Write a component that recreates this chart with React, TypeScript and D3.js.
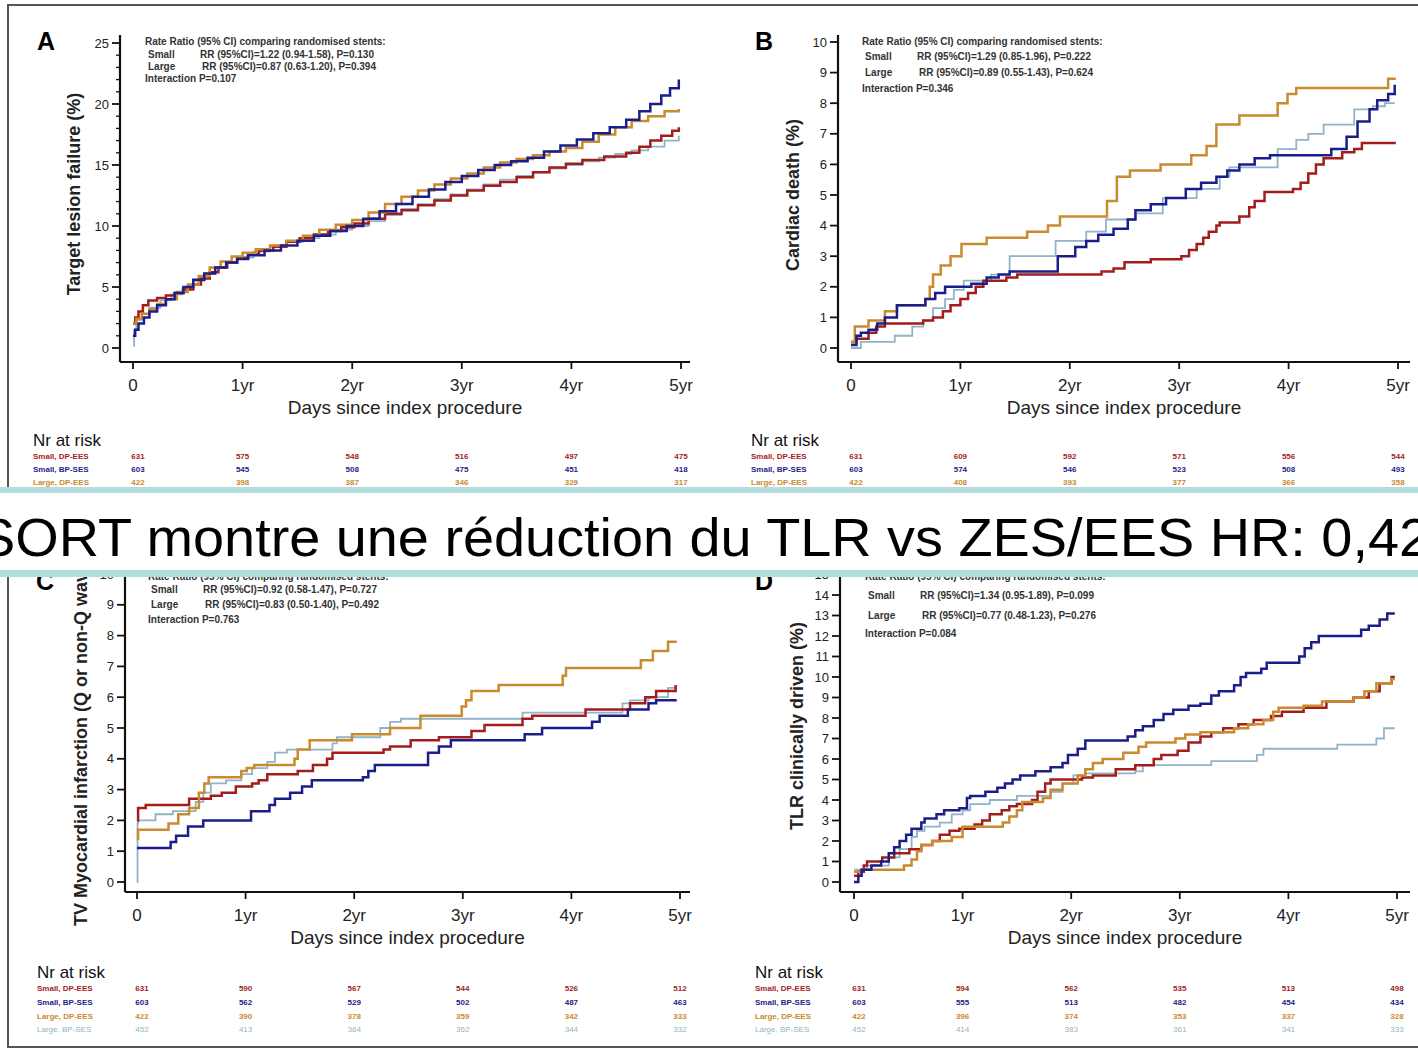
import * as d3 from 'd3';

// groups, in the order of the "Nr at risk" rows
const SERIES = ['Small, DP-EES', 'Small, BP-SES', 'Large, DP-EES', 'Large, BP-SES'];
const COLORS = ['#a31d1d', '#1b1e8a', '#c98a30', '#8fb4c9'];
const DRAW_ORDER = [3, 0, 2, 1];
const X_TICKS = [0, 1, 2, 3, 4, 5];
const X_TICK_LABELS = ['0', '1yr', '2yr', '3yr', '4yr', '5yr'];

// A: target lesion failure, [years, %]
const aSmallDP = [[0,2.0],[0.02,2.5],[0.05,3.0],[0.09,3.5],[0.14,3.9],[0.22,4.1],[0.3,4.3],[0.38,4.5],[0.46,4.8],[0.55,5.2],[0.62,5.7],[0.7,6.2],[0.78,6.6],[0.86,7.0],[0.95,7.4],[1.05,7.7],[1.15,8.0],[1.28,8.3],[1.4,8.7],[1.52,9.0],[1.65,9.3],[1.78,9.6],[1.9,9.9],[2.02,10.2],[2.15,10.6],[2.3,11.0],[2.45,11.3],[2.6,11.7],[2.75,12.1],[2.9,12.5],[3.05,12.9],[3.2,13.3],[3.35,13.6],[3.5,14.0],[3.65,14.4],[3.8,14.8],[3.95,15.1],[4.1,15.4],[4.3,15.7],[4.5,16.0],[4.62,16.5],[4.72,17.0],[4.82,17.4],[4.92,17.8],[4.98,18.1]];
const aSmallBP = [[0,1.0],[0.02,1.5],[0.05,2.0],[0.1,2.5],[0.15,3.0],[0.22,3.5],[0.3,4.0],[0.38,4.5],[0.46,5.0],[0.55,5.6],[0.65,6.1],[0.75,6.6],[0.85,7.0],[0.95,7.3],[1.05,7.6],[1.2,8.0],[1.35,8.4],[1.5,8.8],[1.65,9.2],[1.8,9.6],[1.95,10.0],[2.1,10.6],[2.25,11.2],[2.4,11.8],[2.55,12.4],[2.7,13.0],[2.85,13.6],[3.0,14.1],[3.15,14.6],[3.3,15.0],[3.45,15.3],[3.6,15.6],[3.75,16.1],[3.9,16.6],[4.05,17.1],[4.2,17.6],[4.35,18.1],[4.5,18.7],[4.62,19.4],[4.72,20.0],[4.82,20.7],[4.9,21.3],[4.98,22.0]];
const aLargeDP = [[0,2.0],[0.03,2.4],[0.08,2.8],[0.15,3.2],[0.22,3.6],[0.3,4.0],[0.4,4.6],[0.5,5.2],[0.6,5.9],[0.7,6.6],[0.8,7.1],[0.9,7.5],[1.0,7.8],[1.12,8.1],[1.25,8.4],[1.4,8.8],[1.55,9.2],[1.7,9.7],[1.85,10.1],[2.0,10.5],[2.15,11.1],[2.3,11.8],[2.45,12.4],[2.6,12.9],[2.75,13.4],[2.9,13.9],[3.05,14.3],[3.2,14.8],[3.35,15.2],[3.5,15.5],[3.65,15.8],[3.8,16.1],[3.95,16.4],[4.1,16.9],[4.25,17.5],[4.4,18.1],[4.55,18.6],[4.7,19.0],[4.85,19.4],[4.98,19.6]];
const aLargeBP = [[0,0.2],[0.01,1.5],[0.03,2.3],[0.08,2.8],[0.15,3.3],[0.25,3.9],[0.35,4.4],[0.45,4.9],[0.55,5.5],[0.65,6.1],[0.75,6.6],[0.85,7.0],[0.95,7.4],[1.1,7.9],[1.25,8.3],[1.4,8.7],[1.55,9.0],[1.7,9.3],[1.85,9.7],[2.0,10.0],[2.15,10.4],[2.3,10.9],[2.45,11.4],[2.6,11.8],[2.75,12.2],[2.9,12.6],[3.05,13.0],[3.2,13.4],[3.35,13.8],[3.5,14.1],[3.65,14.4],[3.8,14.7],[3.95,15.0],[4.1,15.3],[4.25,15.6],[4.4,15.9],[4.55,16.2],[4.7,16.5],[4.85,17.0],[4.98,17.4]];

// B: cardiac death
const bSmallDP = [[0,0.2],[0.05,0.3],[0.16,0.5],[0.23,0.7],[0.31,0.8],[0.66,0.9],[0.75,1.0],[0.84,1.2],[0.91,1.4],[1.0,1.6],[1.07,1.8],[1.14,2.0],[1.21,2.2],[1.42,2.3],[1.52,2.4],[2.29,2.5],[2.4,2.6],[2.5,2.8],[2.74,2.9],[3.02,3.0],[3.09,3.2],[3.16,3.4],[3.22,3.6],[3.27,3.8],[3.34,4.0],[3.37,4.1],[3.55,4.3],[3.64,4.6],[3.69,4.8],[3.78,5.1],[4.04,5.2],[4.11,5.4],[4.18,5.7],[4.25,6.0],[4.32,6.2],[4.49,6.4],[4.6,6.5],[4.67,6.7],[4.98,6.7]];
const bSmallBP = [[0,0.1],[0.05,0.4],[0.09,0.5],[0.16,0.6],[0.24,0.8],[0.31,1.0],[0.42,1.4],[0.68,1.6],[0.77,1.8],[0.86,2.0],[1.1,2.1],[1.24,2.3],[1.35,2.4],[1.45,2.5],[1.89,3.0],[2.05,3.3],[2.15,3.5],[2.26,3.7],[2.4,3.9],[2.53,4.2],[2.6,4.5],[2.74,4.7],[2.88,4.9],[3.06,5.2],[3.2,5.4],[3.34,5.6],[3.44,5.8],[3.55,6.0],[3.69,6.2],[3.83,6.3],[4.39,6.5],[4.53,6.9],[4.63,7.4],[4.74,7.8],[4.81,8.1],[4.91,8.3],[4.97,8.6]];
const bLargeDP = [[0,0.2],[0.035,0.7],[0.16,0.9],[0.31,1.2],[0.42,1.4],[0.68,1.6],[0.72,2.0],[0.75,2.4],[0.82,2.7],[0.91,3.0],[1.01,3.4],[1.24,3.6],[1.61,3.8],[1.8,4.0],[1.91,4.3],[2.34,4.8],[2.43,5.6],[2.55,5.8],[2.83,6.0],[3.11,6.3],[3.25,6.6],[3.34,7.3],[3.55,7.6],[3.9,8.0],[3.99,8.3],[4.07,8.5],[4.91,8.8],[4.98,8.8]];
const bLargeBP = [[0,0.0],[0.09,0.2],[0.4,0.4],[0.56,0.7],[0.66,0.9],[0.75,1.3],[0.86,1.6],[0.94,1.9],[1.03,2.2],[1.28,2.4],[1.45,3.0],[1.87,3.5],[2.15,3.8],[2.33,4.2],[2.6,4.4],[2.85,4.9],[3.16,5.2],[3.37,5.6],[3.46,5.9],[3.9,6.5],[4.07,6.8],[4.18,7.0],[4.32,7.3],[4.6,7.8],[4.77,7.9],[4.88,8.0],[4.97,8.0]];

// C: target-vessel myocardial infarction
const cSmallDP = [[0,2.0],[0.01,2.4],[0.08,2.5],[0.48,2.7],[0.68,2.8],[0.78,2.9],[0.91,3.1],[1.06,3.2],[1.12,3.3],[1.2,3.5],[1.48,3.6],[1.62,3.8],[1.75,4.0],[1.8,4.2],[2.27,4.3],[2.33,4.4],[2.52,4.6],[2.78,4.7],[3.08,4.9],[3.2,5.1],[3.55,5.3],[3.64,5.4],[4.13,5.6],[4.54,5.8],[4.68,6.0],[4.78,6.2],[4.96,6.4]];
const cSmallBP = [[0,1.1],[0.31,1.3],[0.36,1.5],[0.47,1.8],[0.61,2.0],[1.05,2.3],[1.22,2.5],[1.27,2.7],[1.41,2.9],[1.52,3.1],[1.61,3.3],[2.08,3.4],[2.13,3.6],[2.19,3.8],[2.68,4.2],[2.78,4.4],[2.89,4.6],[3.57,4.8],[3.73,5.0],[4.19,5.2],[4.26,5.4],[4.52,5.6],[4.71,5.8],[4.78,5.9],[4.97,5.9]];
const cLargeDP = [[0,1.4],[0.01,1.7],[0.29,1.9],[0.38,2.2],[0.48,2.4],[0.57,2.9],[0.62,3.2],[0.66,3.4],[0.96,3.6],[1.01,3.7],[1.08,3.8],[1.45,4.0],[1.48,4.3],[1.59,4.6],[1.98,4.8],[2.33,5.0],[2.61,5.4],[2.99,5.7],[3.03,5.9],[3.08,6.2],[3.33,6.4],[3.92,6.7],[3.95,6.95],[4.64,7.2],[4.75,7.5],[4.89,7.8],[4.97,7.8]];
const cLargeBP = [[0,0.0],[0.005,1.9],[0.01,2.0],[0.17,2.2],[0.33,2.3],[0.54,2.6],[0.61,2.9],[0.68,3.2],[0.82,3.3],[0.96,3.5],[1.06,3.7],[1.2,3.9],[1.27,4.2],[1.38,4.3],[1.8,4.5],[1.84,4.7],[2.24,5.0],[2.33,5.2],[2.43,5.3],[3.55,5.5],[4.47,5.8],[4.54,5.9],[4.71,6.0],[4.89,6.3],[4.96,6.3]];

// D: clinically driven TLR
const dSmallDP = [[0,0.3],[0.04,0.5],[0.09,0.8],[0.12,1.0],[0.26,1.2],[0.37,1.4],[0.51,1.6],[0.62,1.8],[0.72,2.0],[0.79,2.3],[0.88,2.5],[0.97,2.6],[1.11,2.8],[1.18,3.0],[1.25,3.3],[1.36,3.5],[1.43,3.7],[1.5,3.8],[1.64,4.0],[1.69,4.4],[1.76,4.8],[1.81,5.0],[2.1,5.1],[2.2,5.2],[2.41,5.5],[2.59,5.7],[2.76,6.0],[2.83,6.2],[2.98,6.4],[3.08,6.8],[3.19,7.1],[3.29,7.3],[3.4,7.5],[3.54,7.7],[3.68,7.9],[3.84,8.1],[3.94,8.3],[4.14,8.5],[4.35,8.8],[4.6,9.0],[4.74,9.3],[4.84,9.7],[4.95,10.0],[4.98,10.0]];
const dSmallBP = [[0,0.0],[0.04,0.3],[0.07,0.6],[0.16,0.8],[0.25,1.0],[0.32,1.4],[0.37,1.7],[0.42,2.0],[0.48,2.3],[0.53,2.6],[0.62,2.9],[0.65,3.1],[0.76,3.3],[0.83,3.5],[0.97,3.6],[1.04,4.1],[1.07,4.2],[1.21,4.4],[1.32,4.6],[1.39,4.8],[1.46,5.0],[1.53,5.2],[1.67,5.4],[1.81,5.6],[1.92,5.8],[1.97,6.2],[2.06,6.5],[2.13,6.9],[2.52,7.1],[2.59,7.4],[2.66,7.6],[2.76,7.9],[2.85,8.2],[2.94,8.4],[3.08,8.6],[3.19,8.7],[3.29,9.1],[3.36,9.3],[3.5,9.6],[3.56,10.0],[3.61,10.2],[3.75,10.4],[3.8,10.7],[4.1,11.0],[4.15,11.4],[4.21,11.7],[4.28,12.0],[4.67,12.3],[4.74,12.5],[4.84,12.8],[4.91,13.1],[4.98,13.1]];
const dLargeDP = [[0,0.5],[0.07,0.6],[0.46,0.8],[0.53,1.1],[0.58,1.5],[0.62,1.8],[0.72,2.0],[0.9,2.2],[1.0,2.7],[1.37,2.9],[1.43,3.2],[1.5,3.5],[1.55,3.9],[1.74,4.1],[1.81,4.5],[1.92,4.8],[2.06,5.2],[2.13,5.5],[2.2,5.8],[2.29,6.0],[2.48,6.3],[2.62,6.6],[2.69,6.8],[2.96,7.0],[3.05,7.2],[3.19,7.3],[3.5,7.5],[3.63,7.7],[3.77,7.9],[3.86,8.3],[3.91,8.5],[4.14,8.6],[4.31,8.8],[4.6,9.0],[4.7,9.3],[4.81,9.7],[4.95,9.9],[4.98,9.9]];
const dLargeBP = [[0,0.6],[0.12,0.8],[0.32,1.2],[0.42,1.6],[0.53,2.2],[0.58,2.5],[0.65,2.7],[0.79,2.9],[0.9,3.3],[1.0,3.5],[1.07,3.8],[1.25,4.0],[1.5,4.2],[1.81,4.4],[1.92,4.8],[2.02,5.2],[2.13,5.3],[2.59,5.4],[2.66,5.7],[3.29,5.9],[3.71,6.2],[3.77,6.5],[4.45,6.7],[4.81,7.0],[4.88,7.5],[4.98,7.5]];

// numbers at risk at 0..5 years, rows in SERIES order
const riskA = [[631,575,548,516,497,475],[603,545,508,475,451,418],[422,398,387,346,329,317],[452,416,392,366,348,336]];
const riskB = [[631,609,592,571,556,544],[603,574,546,523,508,493],[422,408,393,377,366,358],[452,437,421,405,393,383]];
const riskC = [[631,590,567,544,526,512],[603,562,529,502,487,463],[422,390,378,359,342,333],[452,413,384,362,344,332]];
const riskD = [[631,594,562,535,513,498],[603,555,513,482,454,434],[422,396,374,353,337,328],[452,414,383,361,341,333]];

const legendA = ['RR (95%CI)=1.22 (0.94-1.58), P=0.130', 'RR (95%CI)=0.87 (0.63-1.20), P=0.394', 'Interaction P=0.107'];
const legendB = ['RR (95%CI)=1.29 (0.85-1.96), P=0.222', 'RR (95%CI)=0.89 (0.55-1.43), P=0.624', 'Interaction P=0.346'];
const legendC = ['RR (95%CI)=0.92 (0.58-1.47), P=0.727', 'RR (95%CI)=0.83 (0.50-1.40), P=0.492', 'Interaction P=0.763'];
const legendD = ['RR (95%CI)=1.34 (0.95-1.89), P=0.099', 'RR (95%CI)=0.77 (0.48-1.23), P=0.276', 'Interaction P=0.084'];

const BANNER = 'SORT montre une réduction du TLR vs ZES/EES HR: 0,42';
const FONT = 'Liberation Sans, Arial, sans-serif';

const panels = [
  { letter: 'A', lx: 37, ly: 50, curves: [aSmallDP, aSmallBP, aLargeDP, aLargeBP], risk: riskA, legend: legendA,
    axX: 120, axRight: 690, axY: 362, axTop: 35, xr: [133, 681], yMax: 25, yr: [348, 43], major: 5, minor: 1,
    ytitle: 'Target lesion failure (%)', ytx: 80, yty: 194, ytAnchor: 'middle',
    legX: 145, legY: [45, 58, 70, 82], riskX: 33, riskY: 446, rowY: [459, 472, 485, 498] },
  { letter: 'B', lx: 755, ly: 50, curves: [bSmallDP, bSmallBP, bLargeDP, bLargeBP], risk: riskB, legend: legendB,
    axX: 838, axRight: 1410, axY: 362, axTop: 35, xr: [851, 1398], yMax: 10, yr: [348, 42], major: 1, minor: 0,
    ytitle: 'Cardiac death (%)', ytx: 799, yty: 195, ytAnchor: 'middle',
    legX: 862, legY: [45, 60, 76, 92], riskX: 751, riskY: 446, rowY: [459, 472, 485, 498] },
  { letter: 'C', lx: 36, ly: 590, curves: [cSmallDP, cSmallBP, cLargeDP, cLargeBP], risk: riskC, legend: legendC,
    axX: 125, axRight: 690, axY: 892, axTop: 566, xr: [137, 680], yMax: 10, yr: [882, 574], major: 1, minor: 0,
    ytitle: 'TV Myocardial infarction (Q or non-Q wave) (%)', ytx: 87, yty: 926, ytAnchor: 'start',
    legX: 148, legY: [580, 593, 608, 623], riskX: 37, riskY: 978, rowY: [991, 1005, 1019, 1032] },
  { letter: 'D', lx: 755, ly: 590, curves: [dSmallDP, dSmallBP, dLargeDP, dLargeBP], risk: riskD, legend: legendD,
    axX: 840, axRight: 1410, axY: 892, axTop: 566, xr: [854, 1397], yMax: 15, yr: [882, 574.5], major: 1, minor: 0,
    ytitle: 'TLR clinically driven (%)', ytx: 803, yty: 726, ytAnchor: 'middle',
    legX: 865, legY: [580, 599, 619, 637], riskX: 755, riskY: 978, rowY: [991, 1005, 1019, 1032] },
];

function Panel({ p }) {
  const x = d3.scaleLinear().domain([0, 5]).range(p.xr);
  const y = d3.scaleLinear().domain([0, p.yMax]).range(p.yr);
  const line = d3.line().x(d => x(d[0])).y(d => y(d[1])).curve(d3.curveStepAfter);
  const majors = d3.range(0, p.yMax + 0.001, p.major);
  const minors = p.minor ? d3.range(0, p.yMax + 0.001, p.minor).filter(v => v % p.major !== 0) : [];
  const midX = (p.axX + p.axRight) / 2;
  return (
    <g fontFamily={FONT}>
      <text x={p.lx} y={p.ly} fontSize={25} fontWeight="bold">{p.letter}</text>

      {/* curves */}
      {DRAW_ORDER.map(i => (
        <path key={i} d={line(p.curves[i])} fill="none" stroke={COLORS[i]}
          strokeWidth={i === 3 ? 1.8 : 2.5} />
      ))}

      {/* y axis */}
      <line x1={p.axX} x2={p.axX} y1={p.axTop} y2={p.axY} stroke="#111" strokeWidth={2.2} />
      {majors.map(v => (
        <g key={v}>
          <line x1={p.axX - 8} x2={p.axX} y1={y(v)} y2={y(v)} stroke="#111" strokeWidth={1.8} />
          <text x={p.axX - 11} y={y(v) + 4.5} fontSize={13} textAnchor="end" fill="#222">{v}</text>
        </g>
      ))}
      {minors.map(v => (
        <line key={'m' + v} x1={p.axX - 4} x2={p.axX} y1={y(v)} y2={y(v)} stroke="#111" strokeWidth={1.3} />
      ))}
      <text transform={`translate(${p.ytx},${p.yty}) rotate(-90)`} fontSize={18} textAnchor={p.ytAnchor}
        fill="#222" fontWeight="bold">{p.ytitle}</text>

      {/* x axis */}
      <line x1={p.axX} x2={p.axRight} y1={p.axY} y2={p.axY} stroke="#111" strokeWidth={2.2} />
      {X_TICKS.map((t, k) => (
        <g key={t}>
          <line x1={x(t)} x2={x(t)} y1={p.axY} y2={p.axY + 7} stroke="#111" strokeWidth={1.8} />
          <text x={x(t)} y={p.axY + 29} fontSize={17} textAnchor="middle" fill="#222">{X_TICK_LABELS[k]}</text>
        </g>
      ))}
      <text x={midX} y={p.axY + 52} fontSize={19} textAnchor="middle" fill="#222">Days since index procedure</text>

      {/* legend box text */}
      <g fontSize={10} fill="#333" fontWeight="bold">
        <text x={p.legX} y={p.legY[0]}>Rate Ratio (95% CI) comparing randomised stents:</text>
        <text x={p.legX + 3} y={p.legY[1]}>Small</text>
        <text x={p.legX + 55} y={p.legY[1]}>{p.legend[0]}</text>
        <text x={p.legX + 3} y={p.legY[2]}>Large</text>
        <text x={p.legX + 57} y={p.legY[2]}>{p.legend[1]}</text>
        <text x={p.legX} y={p.legY[3]}>{p.legend[2]}</text>
      </g>

      {/* numbers at risk */}
      <text x={p.riskX} y={p.riskY} fontSize={17} fill="#111">Nr at risk</text>
      {SERIES.map((s, i) => (
        <g key={s} fontSize={8} fill={COLORS[i]} fontWeight={i === 3 ? 'normal' : 'bold'}>
          <text x={p.riskX} y={p.rowY[i]}>{s}</text>
          {p.risk[i].map((n, k) => (
            <text key={k} x={x(X_TICKS[k]) + (k === 0 ? 5 : 0)} y={p.rowY[i]} textAnchor="middle">{n}</text>
          ))}
        </g>
      ))}
    </g>
  );
}

export default function App() {
  const W = 1418, H = 1053;
  return (
    <svg width={W} height={H} style={{ position: 'absolute', left: 0, top: 0, background: '#fff' }}>
      <rect x={0} y={0} width={W} height={H} fill="#fff" />
      <rect x={8} y={5} width={W} height={1042} fill="none" stroke="#555" strokeWidth={2} />
      {panels.map(p => <Panel key={p.letter} p={p} />)}

      {/* overlay banner */}
      <rect x={0} y={487} width={W} height={90} fill="#b3dcdf" />
      <rect x={0} y={493} width={W} height={77} fill="#fff" />
      <text x={-22} y={556} fontSize={54} fontFamily={FONT} fill="#000"
        textLength={1452} lengthAdjust="spacingAndGlyphs">{BANNER}</text>
    </svg>
  );
}
